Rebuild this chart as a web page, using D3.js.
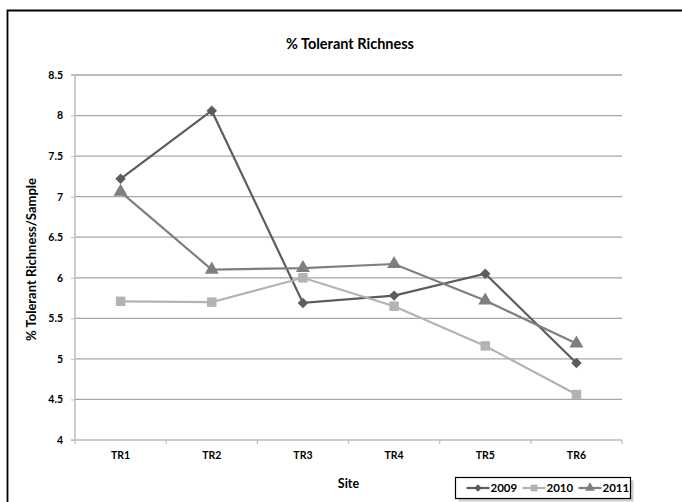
<!DOCTYPE html>
<html><head><meta charset="utf-8">
<script src="https://cdn.jsdelivr.net/npm/d3@7"></script>
<style>body{margin:0;background:#fff}svg{display:block;font-family:Lato,"Open Sans",sans-serif;font-weight:bold}</style>
</head><body><svg id="c" width="682" height="502"></svg>
<script>
const sites = ["TR1","TR2","TR3","TR4","TR5","TR6"];
const years = ["2009","2010","2011"];
const v2009 = [7.22, 8.06, 5.69, 5.78, 6.05, 4.95];
const v2010 = [5.71, 5.70, 6.00, 5.65, 5.16, 4.56];
const v2011 = [7.06, 6.10, 6.12, 6.17, 5.72, 5.19];
const yTicks = [4,4.5,5,5.5,6,6.5,7,7.5,8,8.5];
const tickLabels = ["4","4.5","5","5.5","6","6.5","7","7.5","8","8.5"];
const seriesVals = [v2009, v2010, v2011];
const colors = ["#5c5c5c","#b3b3b3","#7f7f7f"];
const symbols = [d3.symbolSquare, d3.symbolSquare, d3.symbolTriangle];
const symSizes = [55, 90, 85];
const symRot = [45, 0, 0];

const svg = d3.select("#c");
svg.append("path").attr("d","M7.5,520V10.5H682").attr("fill","none").attr("stroke","#000").attr("stroke-width",1.8);

const L=75, R=622, T=75, B=440;
const x = d3.scaleBand().domain(sites).range([L,R]);
const y = d3.scaleLinear().domain([4,8.5]).range([B,T]);

svg.append("g").selectAll("line").data(yTicks.filter(t=>t>4)).join("line")
  .attr("x1",L).attr("x2",R).attr("y1",d=>y(d)).attr("y2",d=>y(d))
  .attr("stroke","#a6a6a6").attr("stroke-width",1.3);

const ya = svg.append("g").attr("transform",`translate(${L},0)`)
  .call(d3.axisLeft(y).tickValues(yTicks).tickFormat((d,i)=>tickLabels[i]).tickSize(4).tickPadding(8));
ya.select(".domain").attr("stroke","#bdbdbd").attr("stroke-width",1.5).attr("d",`M-4,${T}H0V${B}H-4`);
ya.selectAll(".tick line").attr("stroke","#bdbdbd");
ya.selectAll("text").attr("font-size",10.5).attr("font-weight","bold").attr("font-family","Lato").attr("fill","#000");

const xa = svg.append("g").attr("transform",`translate(0,${B})`)
  .call(d3.axisBottom(x).tickSize(0).tickPadding(12));
xa.select(".domain").attr("stroke","#bdbdbd").attr("stroke-width",1.5).attr("d",`M${L},0H${R}`);
xa.selectAll("text").attr("font-size",10.5).attr("font-weight","bold").attr("font-family","Lato").attr("fill","#000");
const bounds = sites.map(s=>x(s)).concat([R]);
svg.append("g").selectAll("line").data(bounds).join("line")
  .attr("x1",d=>d).attr("x2",d=>d).attr("y1",B).attr("y2",B+4).attr("stroke","#bdbdbd").attr("stroke-width",1.2);

svg.append("text").attr("x",350).attr("y",49).attr("text-anchor","middle").attr("font-size",14.5).text("% Tolerant Richness");
svg.append("text").attr("x",348.5).attr("y",488).attr("text-anchor","middle").attr("font-size",12.5).text("Site");
svg.append("text").attr("transform",`translate(36,${(T+B)/2 + 2}) rotate(-90)`).attr("text-anchor","middle").attr("font-size",13).text("% Tolerant Richness/Sample");

const cx = s=>x(s)+x.bandwidth()/2;
const line = d3.line().x((d,i)=>cx(sites[i])).y(d=>y(d));
seriesVals.forEach((vals,k)=>{
  svg.append("path").datum(vals).attr("d",line).attr("fill","none").attr("stroke",colors[k]).attr("stroke-width",2.2);
});
seriesVals.forEach((vals,k)=>{
  svg.append("g").selectAll("path").data(vals).join("path")
    .attr("transform",(d,i)=>`translate(${cx(sites[i])},${y(d)}) rotate(${symRot[k]})`)
    .attr("d",d3.symbol(symbols[k],symSizes[k]))
    .attr("fill",colors[k]);
});

const lg = svg.append("g").attr("transform","translate(455.5,477.5)");
lg.append("rect").attr("x",3).attr("y",3).attr("width",175).attr("height",21).attr("fill","#9a9a9a").attr("opacity",0.5);
lg.append("rect").attr("width",175).attr("height",21).attr("fill","#fff").attr("stroke","#000").attr("stroke-width",1.2);
years.forEach((yr,k)=>{
  const g = lg.append("g").attr("transform",`translate(${11+k*56},10.5)`);
  g.append("line").attr("x1",0).attr("x2",23).attr("stroke",colors[k]).attr("stroke-width",2.2);
  g.append("path").attr("transform",`translate(11.5,0) rotate(${symRot[k]})`).attr("d",d3.symbol(symbols[k],symSizes[k]*0.5)).attr("fill",colors[k]);
  g.append("text").attr("x",24).attr("y",4).attr("font-size",11.5).text(yr);
});
</script></body></html>
